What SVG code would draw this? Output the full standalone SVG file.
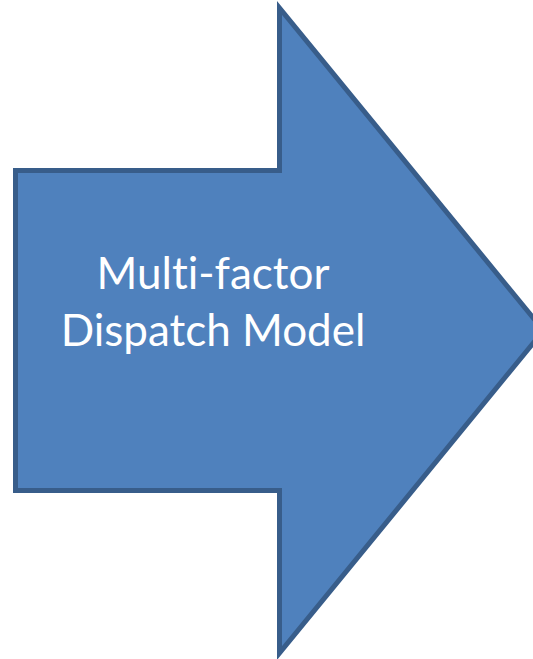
<svg xmlns="http://www.w3.org/2000/svg" width="533" height="659" viewBox="0 0 533 659">
  <style>
    .arrow { fill: #4F81BD; stroke: #385D8A; stroke-width: 5; stroke-linejoin: miter; stroke-miterlimit: 10; }
    .label { fill: #FFFFFF; font-family: Lato, "Open Sans", "Liberation Sans", sans-serif; font-size: 44px; text-anchor: middle; font-variant-ligatures: none; }
  </style>
  <g id="dispatch-model">
    <polygon class="arrow" points="15.5,170.5 279.5,170.5 279.5,8 543.5,330.5 279.5,653 279.5,490.5 15.5,490.5"/>
    <text class="label" x="213" y="289">Multi-factor</text>
    <text class="label" x="213" y="346">Dispatch Model</text>
  </g>
</svg>
